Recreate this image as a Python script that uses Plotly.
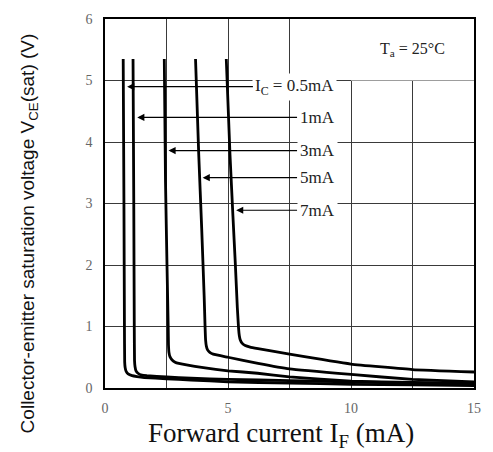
import plotly.graph_objects as go

# ---- data ----
curve_labels = ["0.5mA", "1mA", "3mA", "5mA", "7mA"]

if_05 = [0.74, 0.77, 0.79, 0.80, 0.82, 0.86, 0.94, 1.1, 1.3, 1.6, 2.5, 3.5, 5, 7.5, 10, 12.5, 15]
v_05 = [5.35, 3.0, 1.0, 0.42, 0.33, 0.27, 0.23, 0.20, 0.185, 0.17, 0.15, 0.13, 0.10, 0.08, 0.06, 0.05, 0.04]

if_1 = [1.14, 1.17, 1.19, 1.20, 1.22, 1.26, 1.34, 1.5, 1.7, 2.5, 3.5, 5, 7.5, 10, 12.5, 15]
v_1 = [5.35, 3.0, 1.0, 0.45, 0.35, 0.28, 0.24, 0.21, 0.20, 0.18, 0.16, 0.14, 0.12, 0.10, 0.08, 0.07]

if_3 = [2.41, 2.46, 2.52, 2.57, 2.58, 2.60, 2.64, 2.72, 2.85, 3.0, 4.0, 5.0, 6.2, 7.5, 10, 12.5, 15]
v_3 = [5.35, 3.34, 2.0, 0.97, 0.70, 0.58, 0.51, 0.46, 0.42, 0.40, 0.33, 0.28, 0.24, 0.18, 0.11, 0.09, 0.08]

if_5 = [3.68, 3.81, 3.93, 4.03, 4.07, 4.09, 4.12, 4.17, 4.26, 4.4, 5.0, 6.22, 7.5, 10, 12.5, 15]
v_5 = [5.35, 3.8, 2.6, 1.5, 0.97, 0.78, 0.68, 0.62, 0.58, 0.55, 0.50, 0.40, 0.31, 0.22, 0.14, 0.10]

if_7 = [4.93, 5.08, 5.20, 5.30, 5.38, 5.43, 5.46, 5.50, 5.57, 5.7, 5.9, 6.22, 7.5, 10, 12.5, 15]
v_7 = [5.35, 3.8, 2.8, 2.0, 1.3, 0.97, 0.85, 0.78, 0.73, 0.69, 0.665, 0.64, 0.55, 0.39, 0.30, 0.26]

# arrow tips (on curves) and label positions
arrow_tip_x = [0.90, 1.31, 2.58, 3.97, 5.33]
arrow_tip_y = [4.90, 4.40, 3.86, 3.42, 2.89]
label_x = [7.72, 8.62, 8.62, 8.62, 8.62]
label_text = ["I<sub>C</sub> = 0.5mA", "1mA", "3mA", "5mA", "7mA"]

x_tickvals = [0, 5, 10, 15]
y_tickvals = [0, 1, 2, 3, 4, 5, 6]

SERIF = "Liberation Serif, Times New Roman, serif"
SANS = "Liberation Sans, Arial, sans-serif"

fig = go.Figure()
for xs, ys, name in zip([if_05, if_1, if_3, if_5, if_7],
                        [v_05, v_1, v_3, v_5, v_7], curve_labels):
    fig.add_trace(go.Scatter(x=xs, y=ys, mode="lines", name=name,
                             line=dict(color="black", width=2.8, shape="spline", smoothing=0.3),
                             showlegend=False, hoverinfo="skip"))

# white box for the temperature note (hides the 12.5 gridline above 5 V)
fig.add_shape(type="rect", x0=10, x1=15, y0=5, y1=6, xref="x", yref="y",
              fillcolor="white", line=dict(width=0), layer="between")

fig.add_annotation(x=12.5, y=5.5, xref="x", yref="y", showarrow=False,
                   text="T<sub>a</sub> = 25°C", font=dict(family=SERIF, size=16, color="#222"))

for tx, ty, lx, txt in zip(arrow_tip_x, arrow_tip_y, label_x, label_text):
    fig.add_annotation(x=tx, y=ty, ax=lx, ay=ty, xref="x", yref="y", axref="x", ayref="y",
                       text=txt, showarrow=True, arrowhead=2, arrowsize=1.3, arrowwidth=1.1,
                       arrowcolor="black", bgcolor="white", borderpad=2,
                       font=dict(family=SERIF, size=17, color="#222"))

# axis titles
fig.add_annotation(xref="paper", yref="paper", x=0.477, y=-0.128, showarrow=False,
                   text="Forward current I<sub>F</sub> (mA)", xanchor="center",
                   font=dict(family=SERIF, size=27, color="#111"), yanchor="middle")
fig.add_annotation(xref="paper", yref="paper", x=-0.207, y=0.418, showarrow=False,
                   xanchor="center", yanchor="middle",
                   textangle=-90, text="Collector-emitter saturation voltage V<sub>CE</sub>(sat) (V)",
                   font=dict(family=SANS, size=19, color="#111"))

axis_common = dict(showgrid=True, gridcolor="#3a3a3a", gridwidth=1, showline=True,
                   linecolor="black", linewidth=1.5, mirror=True, zeroline=False,
                   ticks="", tickfont=dict(family=SERIF, size=14, color="#666"))

fig.update_xaxes(range=[0, 15], tickmode="array", tickvals=x_tickvals,
                 minor=dict(dtick=2.5, showgrid=True, gridcolor="#3a3a3a", gridwidth=1, ticks=""),
                 ticklabelstandoff=6, **axis_common)
fig.update_yaxes(range=[0, 6], tickmode="array", tickvals=y_tickvals,
                 ticklabelstandoff=8, **axis_common)

fig.update_layout(width=493, height=452, margin=dict(l=105, r=15, t=14, b=64),
                  plot_bgcolor="white", paper_bgcolor="white")

fig.write_html("out.html", config={"displayModeBar": False},
               post_script="document.body.style.margin='0px';")
